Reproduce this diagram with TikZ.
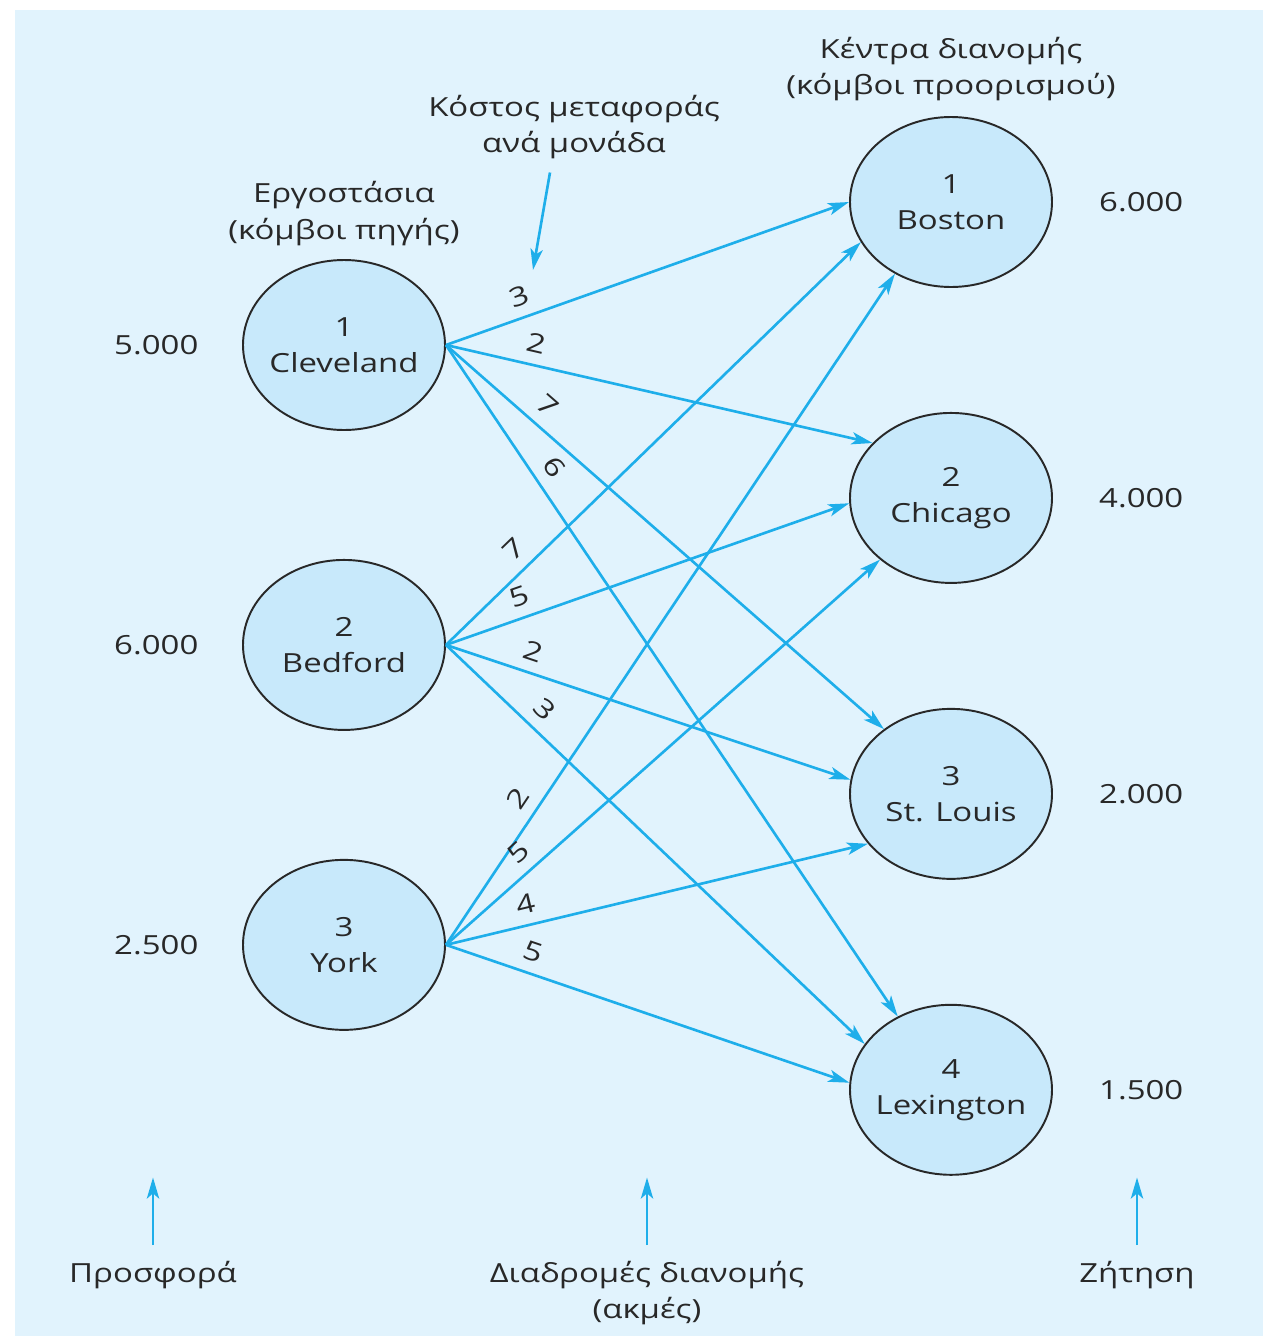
\documentclass[tikz,border=0pt]{standalone}
\usepackage{fontspec}
\setmainfont{Open Sans}[FakeStretch=1.25]
\usetikzlibrary{shapes.geometric, arrows.meta, positioning}
\definecolor{panel}{RGB}{225,243,253}
\definecolor{sitefill}{RGB}{200,233,251}
\definecolor{flow}{RGB}{30,174,234}
\definecolor{ink}{RGB}{40,40,40}

\begin{document}
\begin{tikzpicture}[font=\fontsize{15}{20.5}\selectfont, text=ink, node distance=2.56cm,
    site/.style={ellipse, fill=sitefill, draw=ink, line width=1.1pt,
                 minimum width=4.04cm, minimum height=3.4cm, inner xsep=-0.6cm, inner ysep=0pt, align=center},
    route/.style={-{Stealth[length=12pt,width=7pt,inset=3pt]}, flow, line width=1.5pt},
    costlabel/.style={pos=0.2, sloped, above=5pt, inner sep=1pt, text=ink}]
  \useasboundingbox (0,0) rectangle (25.26,-26.72);
  \fill[panel] (0.3,-0.2) rectangle (25.26,-26.72);

  % source nodes
  \node[site] (cle) at (6.88,-6.9) {1\\Cleveland};
  \node[site, below=of cle] (bed) {2\\Bedford};
  \node[site, below=of bed] (york) {3\\York};

  % destination nodes
  \node[site] (bos) at (19.02,-4.04) {1\\Boston};
  \node[site, below=2.48cm of bos] (chi) {2\\Chicago};
  \node[site, below=2.48cm of chi] (stl) {3\\St. Louis};
  \node[site, below=2.48cm of stl] (lex) {4\\Lexington};

  % supply and demand
  \node[left=0.75cm of cle] (cap1) {5.000};
  \node[left=0.75cm of bed] (cap2) {6.000};
  \node[left=0.75cm of york] (cap3) {2.500};
  \node[right=0.8cm of bos] (dem1) {6.000};
  \node[right=0.8cm of chi] (dem2) {4.000};
  \node[right=0.8cm of stl] (dem3) {2.000};
  \node[right=0.8cm of lex] (dem4) {1.500};

  % titles
  \node[above=0.15cm of cle, align=center] (plants) {Εργοστάσια\\(κόμβοι πηγής)};
  \node[above=0.18cm of bos, align=center] (centres) {Κέντρα διανομής\\(κόμβοι προορισμού)};
  \node[align=center] (costnote) at (11.48,-2.54) {Κόστος μεταφοράς\\ανά μονάδα};
  \coordinate (costtip) at (10.66,-5.4);
  \draw[route] ([xshift=-0.48cm,yshift=-0.15cm]costnote.south) -- (costtip);

  % routes
  \draw[route] (cle.east) -- node[costlabel] {3} (bos.180);
  \draw[route] (cle.east) -- node[costlabel] {2} (chi.145);
  \draw[route] (cle.east) -- node[costlabel] {7} (stl.136);
  \draw[route] (cle.east) -- node[costlabel] {6} (lex.126);
  \draw[route] (bed.east) -- node[costlabel] {7} (bos.204);
  \draw[route] (bed.east) -- node[costlabel] {5} (chi.183);
  \draw[route] (bed.east) -- node[costlabel] {2} (stl.172);
  \draw[route] (bed.east) -- node[costlabel] {3} (lex.152);
  \draw[route] (york.east) -- node[costlabel] {2} (bos.232);
  \draw[route] (york.east) -- node[costlabel] {5} (chi.221);
  \draw[route] (york.east) -- node[costlabel] {4} (stl.211);
  \draw[route] (york.east) -- node[costlabel] {5} (lex.176);

  % bottom captions
  \node[anchor=north] (supply) at (3.06,-25.1) {Προσφορά};
  \node[anchor=north, align=center] (paths) at (12.94,-25.1) {Διαδρομές διανομής\\(ακμές)};
  \node[anchor=north] (demand) at (22.74,-25.1) {Ζήτηση};
  \draw[route] ([yshift=0.2cm]supply.north) -- ([yshift=1.55cm]supply.north);
  \draw[route] ([yshift=0.2cm]paths.north) -- ([yshift=1.55cm]paths.north);
  \draw[route] ([yshift=0.2cm]demand.north) -- ([yshift=1.55cm]demand.north);
\end{tikzpicture}
\end{document}
